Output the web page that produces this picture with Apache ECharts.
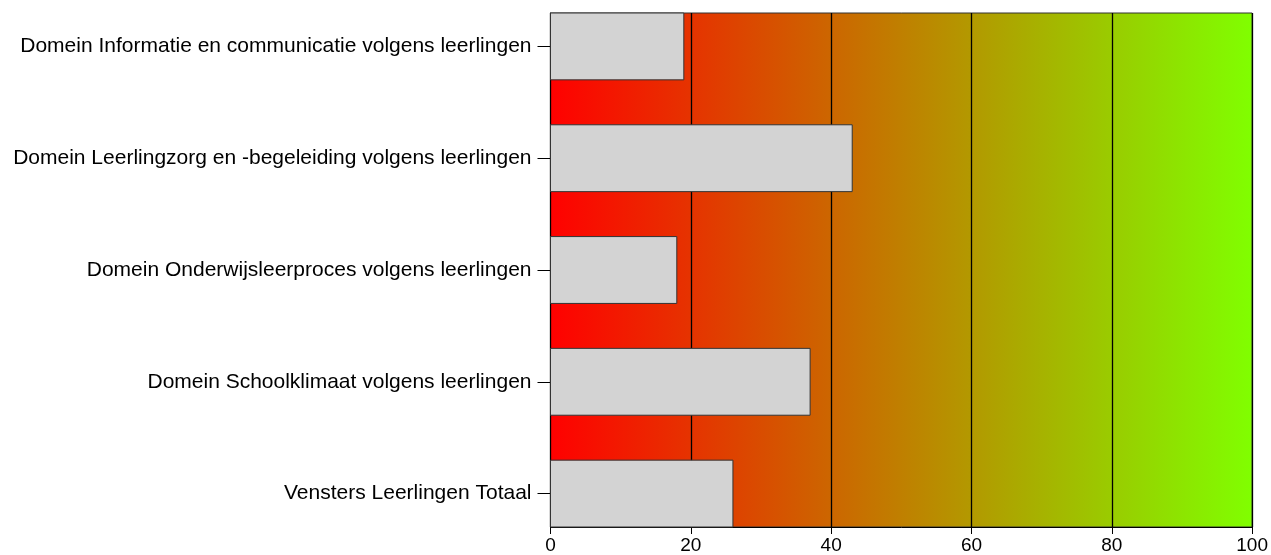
<!DOCTYPE html>
<html>
<head>
<meta charset="utf-8">
<script src="https://cdn.jsdelivr.net/npm/echarts@6/dist/echarts.min.js"></script>
<style>html,body{margin:0;padding:0;background:#fff;}#c{width:1271px;height:555px;}</style>
</head>
<body>
<div id="c"></div>
<script>
var categories = [
  "Domein Informatie en communicatie volgens leerlingen",
  "Domein Leerlingzorg en -begeleiding volgens leerlingen",
  "Domein Onderwijsleerproces volgens leerlingen",
  "Domein Schoolklimaat volgens leerlingen",
  "Vensters Leerlingen Totaal"
];
var values = [19, 43, 18, 37, 26];
var xTicks = [0, 20, 40, 60, 80, 100];

var chart = echarts.init(document.getElementById('c'));
var catIdx = categories.map(function (c, i) { return i; });
var halfBand = 0.299;
chart.setOption({
  animation: false,
  grid: {
    left: 550.5, right: 18, top: 13, bottom: 28,
    show: true,
    borderColor: '#333', borderWidth: 1,
    backgroundColor: new echarts.graphic.LinearGradient(0, 0, 1, 0, [
      { offset: 0, color: '#ff0000' },
      { offset: 1, color: '#80ff00' }
    ])
  },
  xAxis: {
    type: 'value', min: xTicks[0], max: xTicks[xTicks.length - 1], interval: xTicks[1] - xTicks[0],
    axisLine: { show: true, onZero: false, lineStyle: { color: '#000', width: 1 } },
    axisTick: { show: true, length: 7, lineStyle: { color: '#000' } },
    axisLabel: { color: '#000', fontSize: 19, fontFamily: 'Liberation Sans, Arial', margin: 9 },
    splitLine: { show: true, lineStyle: { color: '#000', width: 1.3 } }
  },
  yAxis: {
    type: 'value', inverse: true, min: -halfBand, max: categories.length - 1 + halfBand,
    axisLine: { show: true, onZero: false, lineStyle: { color: '#000', width: 1 } },
    axisTick: { show: true, length: 13, customValues: catIdx, lineStyle: { color: '#000' } },
    axisLabel: {
      customValues: catIdx, color: '#000', fontSize: 21, fontFamily: 'Liberation Sans, Arial', margin: 19,
      formatter: function (v) { return categories[Math.round(v)] || ''; }
    },
    splitLine: { show: false }
  },
  series: [{
    type: 'custom',
    data: values.map(function (v, i) { return [v, i]; }),
    encode: { x: 0, y: 1 },
    renderItem: function (params, api) {
      var v = api.value(0), i = api.value(1);
      var p0 = api.coord([0, i - halfBand]);
      var p1 = api.coord([v, i + halfBand]);
      return {
        type: 'rect',
        shape: { x: p0[0], y: p0[1], width: p1[0] - p0[0], height: p1[1] - p0[1] },
        style: { fill: '#d3d3d3', stroke: '#333', lineWidth: 1 }
      };
    }
  }]
});
</script>
</body>
</html>
